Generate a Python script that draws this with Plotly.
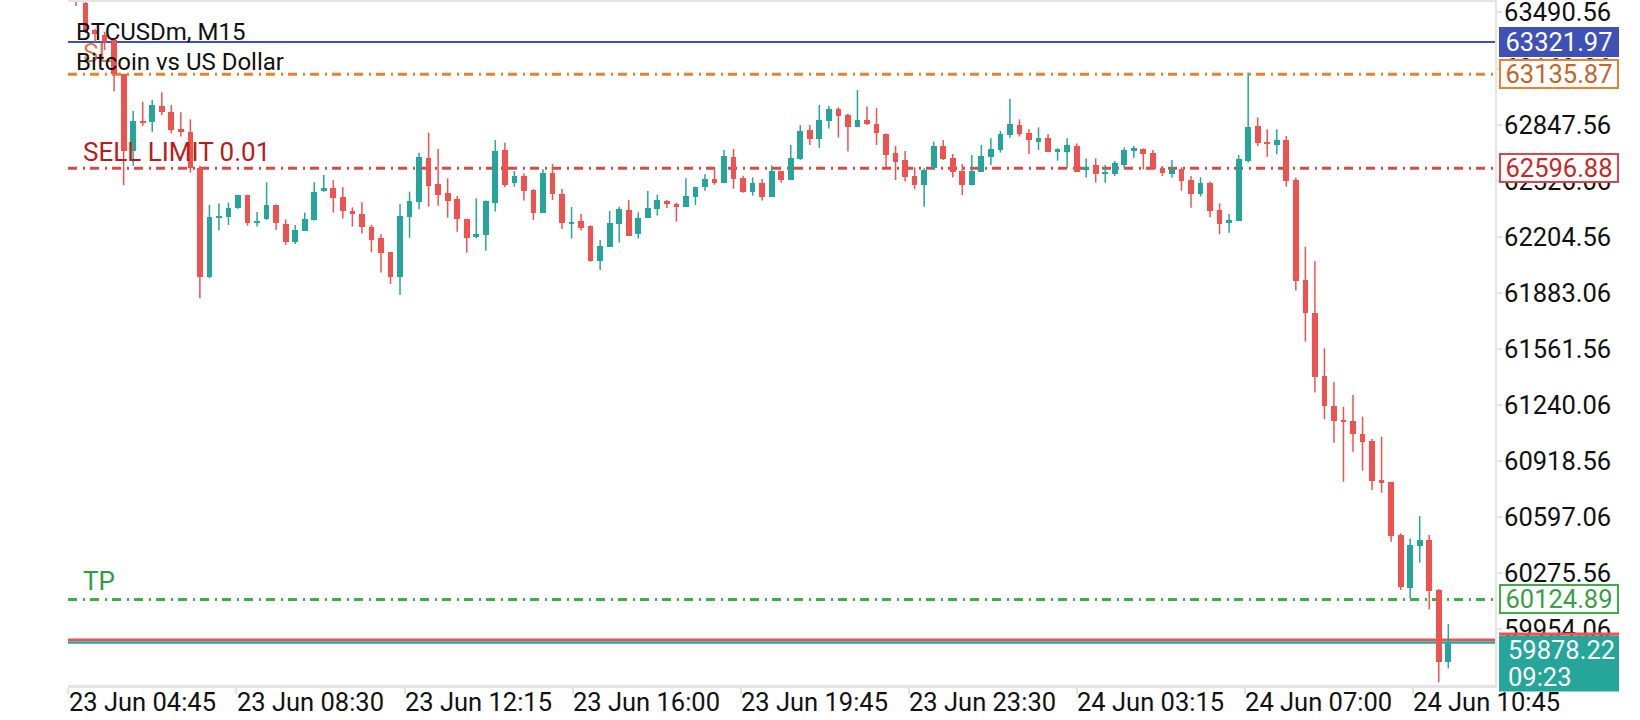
import plotly.graph_objects as go

# M15 candles, oldest first
opens = [63600, 63545, 63390, 63361, 63333, 63138, 62698, 62865, 62865, 62954,
         62920, 62823, 62803, 62597, 61972, 62310, 62320, 62368, 62444, 62285,
         62305, 62387, 62278, 62177, 62240, 62301, 62467, 62482, 62431, 62354,
         62333, 62263, 62196, 62115, 61972, 62320, 62406, 62654, 62507, 62457,
         62421, 62306, 62205, 62215, 62400, 62702, 62511, 62553, 62473, 62343,
         62572, 62450, 62282, 62295, 62266, 62068, 62148, 62278, 62358, 62219,
         62314, 62366, 62410, 62392, 62377, 62434, 62490, 62536, 62515, 62660,
         62540, 62463, 62511, 62435, 62580, 62530, 62650, 62817, 62765, 62870,
         62937, 62905, 62836, 62874, 62851, 62794, 62687, 62645, 62553, 62501,
         62597, 62725, 62654, 62582, 62501, 62578, 62664, 62702, 62788, 62845,
         62802, 62750, 62769, 62696, 62693, 62725, 62588, 62616, 62569, 62565,
         62616, 62698, 62708, 62683, 62597, 62565, 62593, 62530, 62450, 62515,
         62358, 62282, 62297, 62641, 62840, 62750, 62733, 62759, 62530, 61957,
         61769, 61406, 61236, 61148, 61148, 61074, 61034, 60810, 60798, 60495,
         60188, 60433, 60466, 60179, 59768]
highs = [63640, 63560, 63398, 63380, 63337, 63140, 62926, 62979, 62989, 63033,
         62960, 62918, 62878, 62612, 62387, 62396, 62400, 62446, 62446, 62347,
         62517, 62390, 62304, 62272, 62343, 62517, 62559, 62530, 62488, 62373,
         62402, 62273, 62219, 62117, 62393, 62463, 62687, 62802, 62708, 62540,
         62438, 62308, 62425, 62412, 62759, 62744, 62582, 62568, 62478, 62591,
         62622, 62478, 62375, 62335, 62270, 62186, 62352, 62377, 62415, 62345,
         62467, 62444, 62415, 62400, 62540, 62492, 62563, 62599, 62702, 62708,
         62555, 62545, 62536, 62614, 62582, 62731, 62845, 62845, 62960, 62954,
         62947, 62912, 63046, 62951, 62943, 62796, 62725, 62696, 62603, 62597,
         62750, 62760, 62679, 62622, 62673, 62731, 62769, 62811, 62995, 62878,
         62821, 62832, 62794, 62712, 62769, 62740, 62654, 62654, 62616, 62639,
         62717, 62725, 62712, 62702, 62610, 62645, 62603, 62553, 62545, 62521,
         62396, 62335, 62673, 63147, 62889, 62821, 62821, 62782, 62545, 62148,
         62066, 61565, 61372, 61230, 61297, 61173, 61045, 61058, 60800, 60504,
         60475, 60603, 60494, 60185, 59984]
lows = [63528, 63372, 63323, 63275, 63037, 62501, 62612, 62840, 62807, 62903,
        62798, 62779, 62572, 61852, 61966, 62240, 62272, 62365, 62268, 62263,
        62302, 62243, 62157, 62163, 62238, 62298, 62463, 62343, 62310, 62263,
        62224, 62115, 61999, 61934, 61871, 62199, 62362, 62377, 62383, 62314,
        62234, 62113, 62196, 62125, 62349, 62488, 62492, 62412, 62301, 62342,
        62415, 62249, 62194, 62240, 62062, 62014, 62146, 62171, 62209, 62194,
        62312, 62326, 62368, 62291, 62375, 62387, 62469, 62503, 62511, 62480,
        62457, 62440, 62412, 62434, 62515, 62528, 62645, 62731, 62715, 62826,
        62773, 62693, 62832, 62845, 62731, 62603, 62530, 62521, 62477, 62377,
        62595, 62645, 62545, 62444, 62499, 62576, 62616, 62687, 62773, 62779,
        62679, 62702, 62691, 62641, 62597, 62576, 62545, 62515, 62515, 62553,
        62597, 62658, 62591, 62591, 62553, 62545, 62469, 62371, 62435, 62316,
        62219, 62228, 62295, 62630, 62725, 62664, 62677, 62492, 61896, 61603,
        61311, 61158, 61024, 60800, 60972, 60863, 60753, 60737, 60456, 60179,
        60131, 60336, 60068, 59650, 59730]
closes = [63575, 63381, 63365, 63323, 63138, 62698, 62868, 62862, 62958, 62922,
          62817, 62807, 62597, 61972, 62316, 62324, 62368, 62444, 62285, 62295,
          62387, 62282, 62177, 62243, 62306, 62459, 62482, 62429, 62354, 62333,
          62263, 62186, 62113, 61972, 62324, 62410, 62664, 62498, 62444, 62412,
          62305, 62199, 62220, 62410, 62696, 62501, 62553, 62469, 62343, 62572,
          62450, 62282, 62291, 62257, 62066, 62152, 62282, 62364, 62211, 62310,
          62370, 62415, 62394, 62377, 62438, 62490, 62536, 62515, 62668, 62538,
          62463, 62511, 62435, 62582, 62530, 62654, 62811, 62765, 62874, 62937,
          62899, 62836, 62874, 62851, 62801, 62673, 62635, 62549, 62503, 62587,
          62725, 62651, 62578, 62501, 62582, 62668, 62708, 62794, 62851, 62794,
          62760, 62769, 62693, 62706, 62731, 62578, 62607, 62565, 62573, 62626,
          62702, 62712, 62679, 62593, 62572, 62593, 62526, 62450, 62511, 62354,
          62278, 62301, 62651, 62832, 62744, 62735, 62759, 62526, 61953, 61766,
          61402, 61236, 61150, 61144, 61072, 61030, 60806, 60791, 60491, 60195,
          60437, 60466, 60175, 59768, 59878.22]

time_labels = ["23 Jun 04:45", "23 Jun 08:30", "23 Jun 12:15", "23 Jun 16:00",
               "23 Jun 19:45", "23 Jun 23:30", "24 Jun 03:15", "24 Jun 07:00",
               "24 Jun 10:45"]
price_ticks = [63490.56, 63169.06, 62847.56, 62526.06, 62204.56, 61883.06,
               61561.56, 61240.06, 60918.56, 60597.06, 60275.56, 59954.06]

blue_level = 63321.97
sl_price = 63135.87
sell_limit_price = 62596.88
tp_price = 60124.89
bid_price = 59878.22
ask_price = 59894.0
clock_text = "09:23"

UP = "#26A69A"
DOWN = "#EF5350"
FONT = "Roboto"
AXIS_GREY = "#e4e4e4"
DASH = "9px,6px,2px,5px"
TICK_SIZE = 25.5

y_lo, y_hi = 59634.4, 63550.7
x_lo, x_hi = -0.84, 148.9
plot_w = 1495 - 68

idx = list(range(len(opens)))
colors = [UP if c >= o else DOWN for o, c in zip(opens, closes)]

fig = go.Figure()

# wicks
for col in (UP, DOWN):
    xs, ys = [], []
    for i in idx:
        if colors[i] == col:
            xs += [i, i, None]
            ys += [lows[i], highs[i], None]
    fig.add_trace(go.Scatter(x=xs, y=ys, mode="lines", line=dict(color=col, width=1.5),
                             hoverinfo="skip", showlegend=False))

# bodies
body_base = [min(o, c) for o, c in zip(opens, closes)]
body_len = [max(abs(c - o), 8) for o, c in zip(opens, closes)]
fig.add_trace(go.Bar(x=idx, y=body_len, base=body_base, width=0.6,
                     marker=dict(color=colors, line=dict(width=0)), showlegend=False))


def hline(y, color, width, dash="solid"):
    fig.add_shape(type="line", xref="paper", x0=0, x1=1, yref="y", y0=y, y1=y,
                  line=dict(color=color, width=width, dash=dash), layer="below")


hline(blue_level, "#3F51B5", 2)
hline(sl_price, "#E8822E", 3, DASH)
hline(sell_limit_price, "#DA4A48", 3, DASH)
hline(tp_price, "#3FAE49", 3, DASH)
hline(ask_price, "#EF5350", 2.5)
hline(bid_price, UP, 2.5)

# order labels on the left
def left_label(text, y, color, shift):
    fig.add_annotation(text=text, xref="paper", x=0, xanchor="left", xshift=13,
                       yref="y", y=y, yanchor="middle", yshift=shift, showarrow=False,
                       font=dict(family=FONT, size=26, color=color))


left_label("SL", sl_price, "rgba(196,110,48,0.85)", 21)
left_label("SELL LIMIT 0.01", sell_limit_price, "#B71C1C", 16)
left_label("TP", tp_price, "#2E9D3F", 18)

fig.add_annotation(text="BTCUSDm, M15", xref="paper", x=0, xanchor="left", xshift=6,
                   yref="paper", y=1, yanchor="middle", yshift=-30, showarrow=False,
                   font=dict(family=FONT, size=24, color="#111111"))
fig.add_annotation(text="Bitcoin vs US Dollar", xref="paper", x=0, xanchor="left", xshift=6,
                   yref="paper", y=1, yanchor="middle", yshift=-60, showarrow=False,
                   font=dict(family=FONT, size=24, color="#111111"))

# price tags on the right axis
def price_tag(y, bg, border, fg):
    fig.add_annotation(text=f"{y:.2f}", xref="paper", x=1, xanchor="left", xshift=4,
                       yref="y", y=y, yanchor="middle", showarrow=False,
                       width=114, height=24, borderpad=1, borderwidth=2, align="center",
                       bgcolor=bg, bordercolor=border,
                       font=dict(family=FONT, size=TICK_SIZE, color=fg))


price_tag(blue_level, "#3F51B5", "#3F51B5", "white")
price_tag(sl_price, "white", "#E8822E", "#C4652A")
price_tag(sell_limit_price, "white", "#D94848", "#C62828")
price_tag(tp_price, "white", "#3FAE49", "#3A9E46")

# bid tag with clock
bid_frac = (bid_price - y_lo) / (y_hi - y_lo)
tag_x0 = 1 + 4 / plot_w
tag_x1 = 1 + 124 / plot_w
fig.add_shape(type="rect", xref="paper", x0=tag_x0, x1=tag_x1, yref="paper",
              ysizemode="pixel", yanchor=bid_frac, y0=-49, y1=7,
              fillcolor=UP, line=dict(width=0), layer="above")
fig.add_shape(type="rect", xref="paper", x0=tag_x0, x1=tag_x1, yref="paper",
              ysizemode="pixel", yanchor=bid_frac, y0=7, y1=10,
              fillcolor=DOWN, line=dict(width=0), layer="above")
fig.add_annotation(text=f"{bid_price:.2f}", xref="paper", x=1, xanchor="left", xshift=11,
                   yref="y", y=bid_price, yanchor="middle", yshift=-8, showarrow=False,
                   font=dict(family=FONT, size=TICK_SIZE, color="white"))
fig.add_annotation(text=clock_text, xref="paper", x=1, xanchor="left", xshift=11,
                   yref="y", y=bid_price, yanchor="middle", yshift=-35, showarrow=False,
                   font=dict(family=FONT, size=TICK_SIZE, color="white"))

tick_pos = [-0.79 + 17.63 * k for k in range(len(time_labels))]

fig.update_layout(
    width=1640, height=720,
    margin=dict(l=68, r=145, t=2, b=35),
    paper_bgcolor="white", plot_bgcolor="white",
    font=dict(family=FONT, color="#111111"),
    showlegend=False,
    bargap=0,
    xaxis=dict(range=[x_lo, x_hi], showgrid=False, zeroline=False, automargin=False,
               showline=True, linecolor=AXIS_GREY, linewidth=3, mirror=True,
               ticks="outside", ticklen=6, tickwidth=2, tickcolor=AXIS_GREY,
               tickvals=tick_pos, ticktext=time_labels, ticklabelshift=74,
               ticklabelstandoff=-14, ticklabeloverflow="allow",
               tickfont=dict(family=FONT, size=TICK_SIZE, color="#111111")),
    yaxis=dict(range=[y_lo, y_hi], side="right", showgrid=False, zeroline=False,
               automargin=False, ticklabeloverflow="allow", ticklabelstandoff=-3,
               showline=True, linecolor=AXIS_GREY, linewidth=2,
               ticks="outside", ticklen=5, tickwidth=2, tickcolor=AXIS_GREY,
               tickvals=price_ticks, ticktext=[f"{v:.2f}" for v in price_ticks],
               tickfont=dict(family=FONT, size=TICK_SIZE, color="#111111")),
)

# page without the default body margin so the chart sits at the window corner
fig.write_html("out.html", config={"displayModeBar": False},
               post_script="document.body.style.margin='0px';")
